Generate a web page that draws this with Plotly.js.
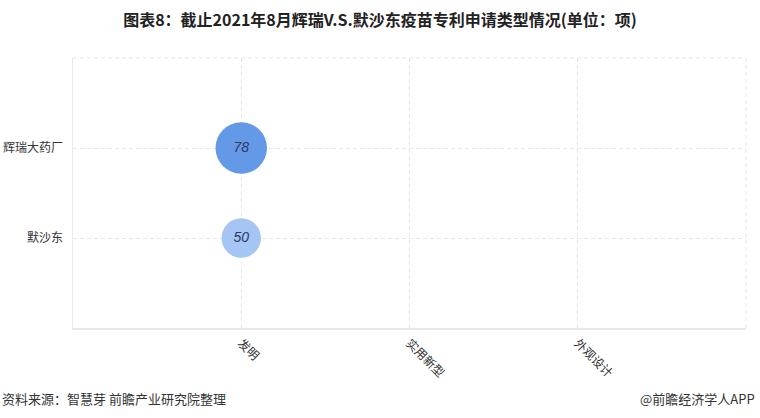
<!DOCTYPE html>
<html>
<head>
<meta charset="utf-8">
<script src="https://cdn.plot.ly/plotly-3.0.1.min.js"></script>
<style>
html,body{margin:0;padding:0;background:#fff;}
#chart{width:760px;height:418px;}
</style>
</head>
<body>
<div id="chart"></div>
<script>
// Data
const patentTypes = ['发明', '实用新型', '外观设计'];
const companies = ['默沙东', '辉瑞大药厂'];
const pfizerCounts = [78, 0, 0];
const msdCounts = [50, 0, 0];

const colors = { '辉瑞大药厂': '#6399e7', '默沙东': '#a5c5f4' };

function sizeOf(v) { return 51.5 * Math.pow(v / 78, 0.6); }

function makeTrace(company, counts) {
  const xs = [], ys = [], vals = [];
  counts.forEach((v, i) => {
    if (v > 0) { xs.push(patentTypes[i]); ys.push(company); vals.push(v); }
  });
  return {
    type: 'scatter', mode: 'markers+text',
    x: xs, y: ys, text: vals.map(String),
    textposition: 'middle center',
    textfont: { family: 'Liberation Sans, Arial, sans-serif', size: 14, color: '#2c3b66', style: 'italic' },
    marker: { size: vals.map(sizeOf), color: colors[company], line: { width: 0 }, opacity: 1 },
    hoverinfo: 'skip', showlegend: false, cliponaxis: false
  };
}

const traces = [makeTrace('辉瑞大药厂', pfizerCounts), makeTrace('默沙东', msdCounts)];

const fontFam = '"Noto Sans CJK SC", "Noto Sans", sans-serif';
const gridCol = '#e6e6e6';

const layout = {
  width: 760, height: 418,
  margin: { l: 73, r: 14, t: 58, b: 90 },
  paper_bgcolor: '#ffffff', plot_bgcolor: '#ffffff',
  font: { family: fontFam, color: '#333333', size: 12 },
  title: {
    text: '图表8：截止2021年8月辉瑞V.S.默沙东疫苗专利申请类型情况(单位：项)',
    font: { family: fontFam, size: 16, color: '#222222', weight: 'bold' },
    x: 0.5, xanchor: 'center', y: 0.952, yanchor: 'middle'
  },
  xaxis: {
    type: 'category', categoryorder: 'array', categoryarray: patentTypes,
    range: [-1, 3], fixedrange: true,
    tickangle: 45, ticks: '', ticklabelstandoff: 2,
    tickfont: { family: fontFam, size: 12, color: '#333333' },
    showgrid: true, gridcolor: gridCol, griddash: '4px,3px', gridwidth: 1,
    showline: true, linecolor: '#e8e8e8', linewidth: 1.5,
    zeroline: false
  },
  yaxis: {
    type: 'category', categoryorder: 'array', categoryarray: companies,
    range: [-1, 2], fixedrange: true,
    ticks: '', ticklabelstandoff: 6,
    tickfont: { family: fontFam, size: 12, color: '#333333' },
    showgrid: true, gridcolor: gridCol, griddash: '4px,3px', gridwidth: 1,
    showline: true, linecolor: '#e8e8e8', linewidth: 1.5,
    zeroline: false
  },
  shapes: [
    { type: 'line', xref: 'paper', yref: 'paper', x0: 0, x1: 1, y0: 1, y1: 1,
      line: { color: gridCol, width: 1, dash: '4px,3px' } },
    { type: 'line', xref: 'paper', yref: 'paper', x0: 1, x1: 1, y0: 0, y1: 1,
      line: { color: gridCol, width: 1, dash: '4px,3px' } }
  ],
  annotations: [
    { text: '资料来源：智慧芽 前瞻产业研究院整理', xref: 'paper', yref: 'paper',
      x: -73/673, y: -70/270, xanchor: 'left', yanchor: 'middle', showarrow: false,
      font: { family: fontFam, size: 13, color: '#333333' } },
    { text: '@前瞻经济学人APP', xref: 'paper', yref: 'paper',
      x: 1 + 11/673, y: -70/270, xanchor: 'right', yanchor: 'middle', showarrow: false,
      font: { family: fontFam, size: 13, color: '#333333' } }
  ]
};

Plotly.newPlot('chart', traces, layout, { displayModeBar: false, staticPlot: true });
</script>
</body>
</html>
